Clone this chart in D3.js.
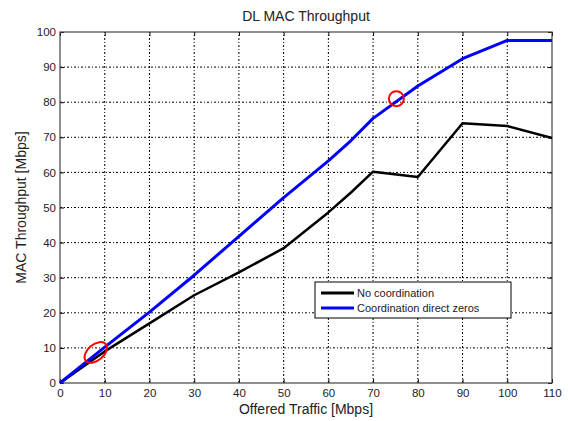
<!DOCTYPE html>
<html>
<head>
<meta charset="utf-8">
<script src="https://cdn.jsdelivr.net/npm/d3@7"></script>
<style>
body { margin: 0; background: #fff; }
text { font-family: "Liberation Sans", Arial, sans-serif; fill: #222; }
</style>
</head>
<body>
<div id="chart"></div>
<script>
// offered traffic (Mbps)
var traffic = [0, 10, 20, 30, 40, 50, 60, 65, 70, 80, 90, 100, 110];
var noCoord = [0, 9, 17, 25, 31.5, 38.4, 48.6, 54.2, 60.2, 58.7, 74, 73.2, 69.8];
var coordZeros = [0, 10.2, 20.2, 30.7, 41.8, 52.8, 63.3, 69, 75.4, 84.6, 92.4, 97.6, 97.6];
var seriesNames = ["No coordination", "Coordination direct zeros"];
var seriesColors = ["#000000", "#0000ff"];
var xTicks = d3.range(0, 111, 10);
var yTicks = d3.range(0, 101, 10);

var width = 568;
var height = 421;
var margin = {top: 32, right: 16, bottom: 38, left: 60};

var svg = d3.select("#chart")
  .append("svg")
  .attr("width", width)
  .attr("height", height);

var x = d3.scaleLinear().domain([0, 110]).range([margin.left, width - margin.right]);
var y = d3.scaleLinear().domain([0, 100]).range([height - margin.bottom, margin.top]);

// grid
svg.append("g")
  .selectAll("line")
  .data(xTicks.slice(1, -1))
  .enter().append("line")
  .attr("x1", d => x(d)).attr("x2", d => x(d))
  .attr("y1", y(0)).attr("y2", y(100))
  .attr("stroke", "#000").attr("stroke-width", 1)
  .attr("stroke-dasharray", "2,2,1,2");
svg.append("g")
  .selectAll("line")
  .data(yTicks.slice(1, -1))
  .enter().append("line")
  .attr("x1", x(0)).attr("x2", x(110))
  .attr("y1", d => y(d)).attr("y2", d => y(d))
  .attr("stroke", "#000").attr("stroke-width", 1)
  .attr("stroke-dasharray", "2,2,1,2");

// axes (ticks inside, matlab style)
svg.append("g")
  .attr("transform", "translate(0," + y(0) + ")")
  .call(d3.axisBottom(x).tickValues(xTicks).tickSizeInner(-4).tickSizeOuter(0).tickPadding(6))
  .call(g => g.select(".domain").remove())
  .selectAll("text").style("font-size", "11.5px");
svg.append("g")
  .attr("transform", "translate(" + x(0) + ",0)")
  .call(d3.axisLeft(y).tickValues(yTicks).tickSizeInner(-4).tickSizeOuter(0).tickPadding(4))
  .call(g => g.select(".domain").remove())
  .selectAll("text").style("font-size", "11.5px");
svg.append("g")
  .attr("transform", "translate(0," + y(100) + ")")
  .call(d3.axisTop(x).tickValues(xTicks).tickSizeInner(-4).tickSizeOuter(0).tickFormat(""))
  .call(g => g.select(".domain").remove());
svg.append("g")
  .attr("transform", "translate(" + x(110) + ",0)")
  .call(d3.axisRight(y).tickValues(yTicks).tickSizeInner(-4).tickSizeOuter(0).tickFormat(""))
  .call(g => g.select(".domain").remove());

svg.append("rect")
  .attr("x", x(0)).attr("y", y(100))
  .attr("width", x(110) - x(0)).attr("height", y(0) - y(100))
  .attr("fill", "none").attr("stroke", "#444").attr("stroke-width", 1.2);

// lines
var line = d3.line().x((d, i) => x(traffic[i])).y(d => y(d));
[noCoord, coordZeros].forEach(function (s, i) {
  svg.append("path")
    .datum(s)
    .attr("d", line)
    .attr("fill", "none")
    .attr("stroke", seriesColors[i])
    .attr("stroke-width", i == 0 ? 2.5 : 3)
    .attr("stroke-linejoin", "round");
});

// red markers
svg.append("ellipse")
  .attr("transform", "translate(" + x(8) + "," + y(8.7) + ") rotate(-40)")
  .attr("rx", 13).attr("ry", 8)
  .attr("fill", "none").attr("stroke", "#ff0000").attr("stroke-width", 2);
svg.append("circle")
  .attr("cx", x(75.2)).attr("cy", y(81))
  .attr("r", 7.5)
  .attr("fill", "none").attr("stroke", "#ff0000").attr("stroke-width", 2);

// legend
var legend = svg.append("g").attr("transform", "translate(315,282)");
legend.append("rect")
  .attr("width", 196).attr("height", 36)
  .attr("fill", "#fff").attr("stroke", "#000").attr("stroke-width", 1);
var items = legend.selectAll(".legend")
  .data(seriesNames)
  .enter().append("g")
  .attr("class", "legend")
  .attr("transform", (d, i) => "translate(0," + (i * 15 + 11) + ")");
items.append("line")
  .attr("x1", 6).attr("x2", 39)
  .attr("stroke", (d, i) => seriesColors[i])
  .attr("stroke-width", 3);
items.append("text")
  .attr("x", 42).attr("dy", "0.35em")
  .style("font-size", "11px")
  .text(d => d);

// titles
svg.append("text")
  .attr("x", (x(0) + x(110)) / 2).attr("y", 21)
  .attr("text-anchor", "middle")
  .style("font-size", "14px")
  .text("DL MAC Throughput");
svg.append("text")
  .attr("x", (x(0) + x(110)) / 2).attr("y", 414)
  .attr("text-anchor", "middle")
  .style("font-size", "14px")
  .text("Offered Traffic [Mbps]");
svg.append("text")
  .attr("transform", "translate(26," + (y(50)) + ") rotate(-90)")
  .attr("text-anchor", "middle")
  .style("font-size", "14px")
  .text("MAC Throughput [Mbps]");
</script>
</body>
</html>
